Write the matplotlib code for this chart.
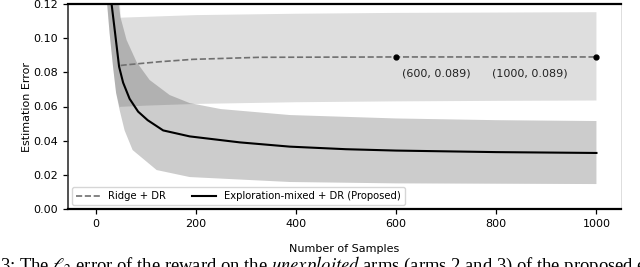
import matplotlib
matplotlib.use("Agg")
import matplotlib.pyplot as plt

# ---- data ----
prop_x = [20, 25, 32, 39, 47, 55, 68, 85, 104, 135, 188, 288, 388, 500, 600, 800, 1000]
prop_mean = [0.20, 0.16, 0.12, 0.103, 0.0833, 0.074, 0.0645, 0.057, 0.052, 0.046, 0.0425,
             0.039, 0.0365, 0.0350, 0.0342, 0.0333, 0.0328]

prop_up_x = [20, 46, 50, 62, 82, 108, 148, 188, 250, 388, 600, 800, 1000]
prop_up = [0.25, 0.12, 0.112, 0.0989, 0.086, 0.0755, 0.0667, 0.062, 0.0585, 0.055, 0.053, 0.052, 0.0515]
prop_lo_x = [20, 23, 28, 35, 41, 48, 58, 74, 122, 188, 388, 600, 800, 1000]
prop_lo = [0.135, 0.12, 0.103, 0.083, 0.068, 0.058, 0.046, 0.0345, 0.0228, 0.0187, 0.0158, 0.015, 0.0148, 0.0146]

ridge_x = [50, 58, 128, 194, 328, 600, 800, 1000]
ridge_mean = [0.0840, 0.0843, 0.0862, 0.0876, 0.0888, 0.089, 0.089, 0.089]

ridge_band_x = [22, 28, 35, 41, 48, 50, 100, 200, 400, 600, 800, 1000]
ridge_lo = [0.125, 0.103, 0.083, 0.068, 0.0595, 0.0598, 0.0605, 0.0615, 0.0625, 0.063, 0.0633, 0.0635]
ridge_hi = [0.13, 0.13, 0.13, 0.13, 0.125, 0.112, 0.1125, 0.1135, 0.1143, 0.1148, 0.115, 0.1152]

annot_x = [600, 1000]
annot_y = [0.089, 0.089]
annot_labels = ["(600, 0.089)", "(1000, 0.089)"]
annot_text_x = [612, 792]
annot_text_y = [0.0796, 0.0796]

xticks = [0, 200, 400, 600, 800, 1000]
yticks = [0.00, 0.02, 0.04, 0.06, 0.08, 0.10, 0.12]

caption = (r"3: The $\ell_2$ error of the reward on the $\mathit{unexploited}$ arms "
           r"(arms 2 and 3) of the proposed ec")

# ---- figure ----
plt.rcParams['mathtext.fontset'] = 'stix'
fig = plt.figure(figsize=(6.4, 2.67), dpi=100)
ax = fig.add_axes([68 / 640, 1 - 209 / 267, (620.5 - 68) / 640, (209 - 4) / 267])

# bands
ax.fill(ridge_band_x + ridge_band_x[::-1], ridge_hi + ridge_lo[::-1],
        color='black', alpha=0.13, lw=0)
ax.fill(prop_up_x + prop_lo_x[::-1], prop_up + prop_lo[::-1],
        color='black', alpha=0.2, lw=0)

ax.plot(ridge_x, ridge_mean, ls='--', color='#707070', lw=1.2, label='Ridge + DR')
ax.plot(prop_x, prop_mean, ls='-', color='black', lw=1.5,
        label='Exploration-mixed + DR (Proposed)')

ax.plot(annot_x, annot_y, 'o', color='black', ms=3.5, zorder=5)
for tx, ty, lab in zip(annot_text_x, annot_text_y, annot_labels):
    ax.text(tx, ty, lab, fontsize=8, va='center', ha='left', color='#222222')

ax.set_xlim(-55, 1048)
ax.set_ylim(0, 0.12)
ax.set_xticks(xticks)
ax.set_yticks(yticks)
ax.set_yticklabels([f"{v:.2f}" for v in yticks])
ax.tick_params(labelsize=8, length=3.5, width=0.9)
ax.set_xlabel("Number of Samples", fontsize=8, labelpad=11)
ax.set_ylabel("Estimation Error", fontsize=8, labelpad=0.8)

for s in ['top', 'bottom']:
    ax.spines[s].set_linewidth(1.6)
    ax.spines[s].set_color('black')
ax.spines['left'].set_linewidth(1.2)
ax.spines['left'].set_color('#333333')
ax.spines['right'].set_linewidth(0.6)
ax.spines['right'].set_color('#d8d8d8')

ax.legend(loc='lower left', ncol=2, fontsize=7.2, frameon=True,
          handlelength=2.4, columnspacing=2.6, borderaxespad=0.4)

fig.text(0.0, -0.015, caption, fontsize=13.4, family='Liberation Serif',
         ha='left', va='baseline')

fig.savefig("out.png", dpi=100)
